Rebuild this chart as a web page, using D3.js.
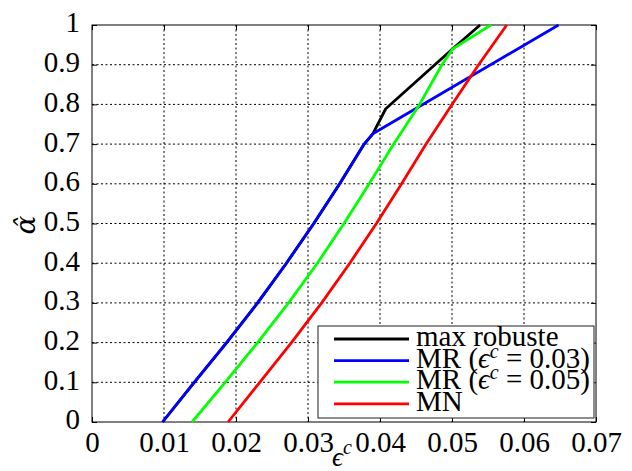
<!DOCTYPE html>
<html><head><meta charset="utf-8">
<script src="https://cdn.jsdelivr.net/npm/d3@7"></script>
<style>body{margin:0;background:#fff}svg{display:block}</style>
</head><body>
<svg id="c" width="632" height="471"></svg>
<script>
const xTicks = [0, 0.01, 0.02, 0.03, 0.04, 0.05, 0.06, 0.07];
const xTickLabels = ["0", "0.01", "0.02", "0.03", "0.04", "0.05", "0.06", "0.07"];
const yTicks = [0, 0.1, 0.2, 0.3, 0.4, 0.5, 0.6, 0.7, 0.8, 0.9, 1];
const yTickLabels = ["0", "0.1", "0.2", "0.3", "0.4", "0.5", "0.6", "0.7", "0.8", "0.9", "1"];

const seriesNames = ["max robuste", "MR (ϵc = 0.03)", "MR (ϵc = 0.05)", "MN"];
const seriesColors = ["#000000", "#0000ff", "#00ff00", "#ff0000"];

const blackEps   = [0.0098, 0.0142, 0.0187, 0.0230, 0.0270, 0.0308, 0.0344, 0.0378, 0.0390, 0.0408, 0.0501, 0.0539];
const blackAlpha = [0, 0.1, 0.2, 0.3, 0.4, 0.5, 0.6, 0.7, 0.726, 0.789, 0.940, 1];
const blueEps    = [0.0098, 0.0142, 0.0187, 0.0230, 0.0270, 0.0308, 0.0344, 0.0378, 0.0390, 0.0648];
const blueAlpha  = [0, 0.1, 0.2, 0.3, 0.4, 0.5, 0.6, 0.7, 0.726, 1];
const greenEps   = [0.0139, 0.0185, 0.0230, 0.0273, 0.0313, 0.0350, 0.0385, 0.0419, 0.0455, 0.0486, 0.0501, 0.0554];
const greenAlpha = [0, 0.1, 0.2, 0.3, 0.4, 0.5, 0.6, 0.7, 0.8, 0.9, 0.94, 1];
const redEps     = [0.0189, 0.0233, 0.0277, 0.0319, 0.0358, 0.0395, 0.0430, 0.0464, 0.0500, 0.0537, 0.0576];
const redAlpha   = [0, 0.1, 0.2, 0.3, 0.4, 0.5, 0.6, 0.7, 0.8, 0.9, 1];

const series = [
  {eps: blackEps, alpha: blackAlpha},
  {eps: blueEps, alpha: blueAlpha},
  {eps: greenEps, alpha: greenAlpha},
  {eps: redEps, alpha: redAlpha}
].map((s, i) => ({name: seriesNames[i], color: seriesColors[i],
  pts: s.eps.map((e, j) => [e, s.alpha[j]])}));

const L = 92, R = 596, T = 25, B = 422;
const FONT = "'Liberation Serif', 'DejaVu Serif', serif";
const svg = d3.select("#c");
const x = d3.scaleLinear().domain([0, 0.07]).range([L, R]);
const y = d3.scaleLinear().domain([0, 1]).range([B, T]);

// grid
const g = svg.append("g");
g.selectAll(".gx").data(xTicks.slice(1, -1)).join("line")
  .attr("x1", d => x(d)).attr("x2", d => x(d)).attr("y1", T).attr("y2", B)
  .attr("stroke", "#000").attr("stroke-width", 1).attr("stroke-dasharray", "2,2.5");
g.selectAll(".gy").data(yTicks.slice(1, -1)).join("line")
  .attr("y1", d => y(d)).attr("y2", d => y(d)).attr("x1", L).attr("x2", R)
  .attr("stroke", "#000").attr("stroke-width", 1).attr("stroke-dasharray", "2,2.5");

// axes (ticks inward)
const ax = svg.append("g").attr("transform", `translate(0,${B})`)
  .call(d3.axisBottom(x).tickValues(xTicks).tickFormat((d, i) => xTickLabels[i]).tickSizeInner(-5).tickSizeOuter(0).tickPadding(9));
const axTop = svg.append("g").attr("transform", `translate(0,${T})`)
  .call(d3.axisTop(x).tickValues(xTicks).tickFormat("").tickSizeInner(-5).tickSizeOuter(0));
const ay = svg.append("g").attr("transform", `translate(${L},0)`)
  .call(d3.axisLeft(y).tickValues(yTicks).tickFormat((d, i) => yTickLabels[i]).tickSizeInner(-5).tickSizeOuter(0).tickPadding(12));
const ayR = svg.append("g").attr("transform", `translate(${R},0)`)
  .call(d3.axisRight(y).tickValues(yTicks).tickFormat("").tickSizeInner(-5).tickSizeOuter(0));
[ax, axTop, ay, ayR].forEach(a => {
  a.select(".domain").remove();
  a.selectAll("line").attr("stroke", "#000");
  a.selectAll("text").attr("font-family", FONT).attr("font-size", 29).attr("fill", "#000");
});
ay.selectAll("text").attr("dy", "0.24em");
ax.selectAll("text").attr("dy", "0.71em");

svg.append("rect").attr("x", L).attr("y", T).attr("width", R - L).attr("height", B - T)
  .attr("fill", "none").attr("stroke", "#000").attr("stroke-width", 1);

// lines
const line = d3.line().x(d => x(d[0])).y(d => y(d[1]));
svg.append("g").selectAll("path").data(series).join("path")
  .attr("d", d => line(d.pts)).attr("fill", "none")
  .attr("stroke", d => d.color).attr("stroke-width", 2.8).attr("stroke-linejoin", "round");

// axis labels
const xl = svg.append("text").attr("x", 342).attr("y", 466).attr("text-anchor", "middle")
  .attr("font-family", FONT).attr("font-size", 27);
xl.append("tspan").attr("font-style", "italic").text("ϵ");
xl.append("tspan").attr("font-style", "italic").attr("font-size", 20).attr("dy", -12).text("c");

svg.append("text").attr("transform", "translate(35,225) rotate(-90)").attr("text-anchor", "middle")
  .attr("font-family", "'DejaVu Serif', serif").attr("font-size", 28).attr("font-style", "italic").text("α̂");

// legend
const lg = svg.append("g");
lg.append("rect").attr("x", 318).attr("y", 326).attr("width", 276).attr("height", 92)
  .attr("fill", "#fff").attr("stroke", "#444").attr("stroke-width", 1.2);
const rows = lg.selectAll(".row").data(series).join("g")
  .attr("transform", (d, i) => `translate(0,${339 + i * 21.6})`);
rows.append("line").attr("x1", 334).attr("x2", 409).attr("stroke", d => d.color).attr("stroke-width", 2.8);
rows.each(function(d, i) {
  const t = d3.select(this).append("text").attr("x", 416).attr("y", 7)
    .attr("font-family", FONT).attr("font-size", 29).attr("fill", "#000");
  if (d.name.indexOf("ϵc") >= 0) {
    const parts = d.name.split("ϵc");
    t.append("tspan").text(parts[0]);
    t.append("tspan").attr("font-style", "italic").text("ϵ");
    t.append("tspan").attr("font-style", "italic").attr("font-size", 20).attr("dy", -10).text("c");
    t.append("tspan").attr("dy", 10).text(parts[1]);
  } else {
    t.text(d.name);
  }
});
</script>
</body></html>
